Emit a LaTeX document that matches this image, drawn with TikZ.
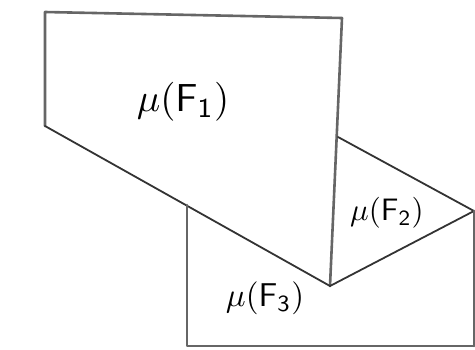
\documentclass[tikz,border=0pt]{standalone}
\usepackage{amsmath}
\usepackage{graphicx}
\begin{document}
\begin{tikzpicture}[x=1pt,y=-1pt,
  pencil/.style={draw=black!60, line width=2.6pt, line join=round, line cap=round},
  thin pencil/.style={draw=black!80, line width=1.8pt, line join=round, line cap=round},
  lbl/.style={inner sep=0pt}]
\useasboundingbox (0,0) rectangle (475,349);
% corners
\coordinate (a) at (45,12);
\coordinate (b) at (342,18);
\coordinate (c) at (330,286);
\coordinate (d) at (45,126);
\coordinate (e) at (338,137);
\coordinate (f) at (474,211);
\coordinate (g) at (474,346);
\coordinate (h) at (187,205);
\coordinate (i) at (187,346);
% F1
\draw[pencil] (d) -- (a) -- (b) -- (c);
\draw[thin pencil] (d) -- (c);
% F2
\draw[thin pencil] (e) -- (f) -- (c);
\draw[pencil] (f) -- (g);
% F3
\draw[pencil] (h) -- (i) -- (g);
% labels
\node[lbl] (l1) at (183,102) {\scalebox{3.9}{$\mu(\mathsf{F}_{\mathsf{1}})$}};
\node[lbl] (l2) at (387,213) {\scalebox{3.1}{$\mu(\mathsf{F}_{\mathsf{2}})$}};
\node[lbl] (l3) at (265,298) {\scalebox{3.3}{$\mu(\mathsf{F}_{\mathsf{3}})$}};
\end{tikzpicture}
\end{document}
